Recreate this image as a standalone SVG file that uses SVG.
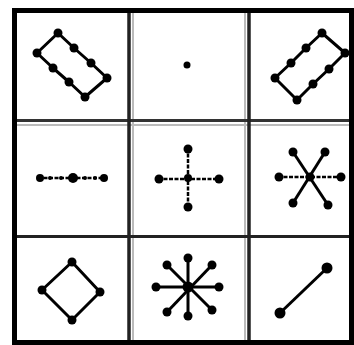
<svg xmlns="http://www.w3.org/2000/svg" width="354" height="345" viewBox="0 0 354 345">
<style>
.e{stroke:#000;stroke-width:3;fill:none;stroke-linejoin:round}
.d{stroke:#000;stroke-width:2.5;fill:none;stroke-dasharray:4 1.5}
.n{fill:#000}
.s{fill:#000}
</style>
<rect width="354" height="345" fill="#fff"/>
<g id="grid">
<line x1="17" y1="125" x2="350" y2="125" stroke="#bbb" stroke-width="2"/>
<line x1="133" y1="13" x2="133" y2="340" stroke="#bbb" stroke-width="2"/>
<line x1="245" y1="13" x2="245" y2="340" stroke="#bbb" stroke-width="2"/>
<line x1="17" y1="120.5" x2="350" y2="120.5" stroke="#333" stroke-width="3"/>
<line x1="17" y1="236.5" x2="350" y2="236.5" stroke="#222" stroke-width="3"/>
<line x1="129" y1="13" x2="129" y2="340" stroke="#222" stroke-width="3.5"/>
<line x1="249" y1="13" x2="249" y2="340" stroke="#222" stroke-width="3.5"/>
<rect x="14.5" y="10.5" width="337" height="332" fill="none" stroke="#000" stroke-width="5"/>
</g>
<g id="connectors">
<polygon class="e" points="58,33 74,48 91,63 107,78 85,97 69,82 53,68 37,53"/>
<polygon class="e" points="275,78 291,63 306,48 322,33 345,53 329,69 313,84 297,100"/>
<line class="d" x1="38" y1="178" x2="105" y2="178"/>
<line class="d" x1="158" y1="179" x2="220" y2="179"/>
<line class="d" x1="188" y1="148" x2="188" y2="207"/>
<line class="d" x1="278" y1="177" x2="342" y2="177"/>
<line class="e" x1="293" y1="152" x2="328" y2="205"/>
<line class="e" x1="325" y1="152" x2="293" y2="203"/>
<polygon class="e" points="72,262 100,292 72,320 42,290"/>
<line class="e" x1="188" y1="257" x2="188" y2="317"/>
<line class="e" x1="155" y1="287" x2="220" y2="287"/>
<line class="e" x1="167" y1="265" x2="212" y2="310"/>
<line class="e" x1="212" y1="265" x2="167" y2="312"/>
<line class="e" x1="280" y1="313" x2="327" y2="268"/>
</g>
<g id="g1">
<circle class="n" cx="58" cy="33" r="4.5"/><circle class="n" cx="74" cy="48" r="4.5"/><circle class="n" cx="91" cy="63" r="4.5"/><circle class="n" cx="107" cy="78" r="4.5"/>
<circle class="n" cx="85" cy="97" r="4.5"/><circle class="n" cx="69" cy="82" r="4.5"/><circle class="n" cx="53" cy="68" r="4.5"/><circle class="n" cx="37" cy="53" r="4.5"/>
</g>
<g id="g2"><circle class="n" cx="187" cy="65" r="3.5"/></g>
<g id="g3">
<circle class="n" cx="322" cy="33" r="4.5"/><circle class="n" cx="345" cy="53" r="4.5"/><circle class="n" cx="329" cy="69" r="4.5"/><circle class="n" cx="313" cy="84" r="4.5"/>
<circle class="n" cx="297" cy="100" r="4.5"/><circle class="n" cx="291" cy="63" r="4.5"/><circle class="n" cx="306" cy="48" r="4.5"/><circle class="n" cx="275" cy="78" r="4.5"/>
</g>
<g id="g4">
<circle class="n" cx="40" cy="178" r="4"/><circle class="n" cx="73" cy="178" r="5"/><circle class="n" cx="104" cy="178" r="4"/>
<circle class="s" cx="50" cy="178" r="2"/><circle class="s" cx="61" cy="178" r="2"/><circle class="s" cx="85" cy="178" r="2"/><circle class="s" cx="95" cy="178" r="2"/>
</g>
<g id="g5">
<circle class="n" cx="188" cy="178" r="4"/><circle class="n" cx="188" cy="149" r="4.5"/><circle class="n" cx="188" cy="207" r="4.5"/><circle class="n" cx="159" cy="179" r="4.5"/><circle class="n" cx="219" cy="179" r="4.5"/>
</g>
<g id="g6">
<circle class="n" cx="310" cy="177" r="4.5"/><circle class="n" cx="279" cy="177" r="4.5"/><circle class="n" cx="341" cy="177" r="4.5"/>
<circle class="n" cx="293" cy="152" r="4.5"/><circle class="n" cx="325" cy="152" r="4.5"/><circle class="n" cx="293" cy="203" r="4.5"/><circle class="n" cx="328" cy="205" r="4.5"/>
</g>
<g id="g7">
<circle class="n" cx="72" cy="262" r="4.5"/><circle class="n" cx="100" cy="292" r="4.5"/><circle class="n" cx="72" cy="320" r="4.5"/><circle class="n" cx="42" cy="290" r="4.5"/>
</g>
<g id="g8">
<circle class="n" cx="188" cy="287" r="5.5"/>
<circle class="n" cx="188" cy="258" r="4.5"/><circle class="n" cx="188" cy="316" r="4.5"/><circle class="n" cx="156" cy="287" r="4.5"/><circle class="n" cx="219" cy="287" r="4.5"/>
<circle class="n" cx="167" cy="265" r="4.5"/><circle class="n" cx="212" cy="265" r="4.5"/><circle class="n" cx="167" cy="312" r="4.5"/><circle class="n" cx="212" cy="310" r="4.5"/>
</g>
<g id="g9">
<circle class="n" cx="280" cy="313" r="5.5"/><circle class="n" cx="327" cy="268" r="5.5"/>
</g>
</svg>
